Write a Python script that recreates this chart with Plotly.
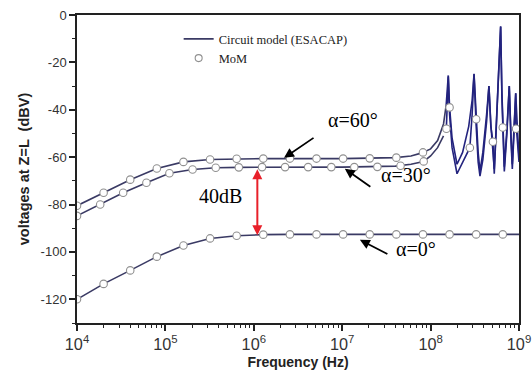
import plotly.graph_objects as go

# ---------------- data ----------------
# MoM markers
mom60_f = [1e4 * 2 ** k for k in range(17)]
mom60_v = [-80.5, -75, -69.5, -64.8, -62, -61, -60.7, -60.6, -60.6, -60.6, -60.6, -60.5,
           -60.2, -58, -39, -44, -47.5]

mom30_f = [1.0e4, 1.83e4, 3.33e4, 6.1e4, 1.11e5, 2.03e5, 3.71e5, 6.77e5, 1.24e6, 2.26e6,
           4.12e6, 7.53e6, 1.37e7, 2.5e7, 4.57e7, 8.35e7, 1.51e8, 2.78e8, 5.07e8, 9.27e8]
mom30_v = [-84.8, -80, -75, -70.8, -66.8, -65.2, -64.5, -64.3, -64.2, -64.2,
           -64.2, -64.2, -64.2, -64.1, -63.6, -61.8, -48, -56, -53.5, -48]

mom0_f = [1e4 * 2 ** k for k in range(17)]
mom0_v = [-120, -113.5, -107.8, -102, -97.3, -94.3, -93.2, -92.7, -92.6, -92.6, -92.6,
          -92.6, -92.6, -92.6, -92.6, -92.6, -92.6]

# Circuit model (ESACAP) lines
c60_f = [1e4, 2e4, 4e4, 8e4, 1.6e5, 3.2e5, 6.4e5, 1.28e6, 1e7, 4e7, 6e7, 8e7, 1.0e8, 1.2e8,
         1.4e8, 1.5e8, 1.585e8, 1.64e8, 1.75e8, 1.99e8, 2.3e8, 2.7e8, 2.95e8, 3.1e8, 3.28e8,
         3.45e8, 3.62e8, 3.9e8, 4.3e8, 4.57e8, 4.8e8, 5.25e8, 5.6e8, 5.95e8, 6.2e8, 6.4e8,
         6.55e8, 6.82e8, 7.3e8, 7.76e8, 8.1e8, 8.4e8, 8.8e8, 9.18e8, 9.6e8, 1e9]
c60_v = [-80.5, -75, -69.5, -64.8, -62, -61, -60.7, -60.6, -60.6, -60.2, -59.5, -58.2, -56.5, -53,
         -46, -38, -25.5, -39, -52, -63, -58, -47, -36, -24.8, -44,
         -58, -66, -58, -42, -30, -46, -65, -42, -16, -4.8, -32,
         -47.5, -64, -48, -30, -50, -63, -47, -33, -48, -60]

c30_f = [1e4, 1.83e4, 3.33e4, 6.1e4, 1.11e5, 2.03e5, 3.71e5, 6.77e5, 1e7, 4e7, 6e7, 8.35e7,
         1.0e8, 1.2e8, 1.4e8, 1.51e8, 1.585e8, 1.64e8, 1.75e8, 1.99e8, 2.3e8, 2.78e8, 2.95e8,
         3.1e8, 3.28e8, 3.45e8, 3.62e8, 3.9e8, 4.3e8, 4.57e8, 4.8e8, 5.07e8, 5.25e8, 5.6e8,
         5.95e8, 6.2e8, 6.4e8, 6.82e8, 7.3e8, 7.76e8, 8.1e8, 8.4e8, 8.8e8, 9.18e8, 9.27e8,
         9.6e8, 1e9]
c30_v = [-84.8, -80, -75, -70.8, -66.8, -65.2, -64.5, -64.3, -64.2, -63.8, -63, -61.8,
         -59.5, -56, -51, -47, -26, -42, -56, -67, -62, -56, -42,
         -25, -47, -62, -68, -61, -45, -30, -47, -53.5, -67, -45,
         -18, -5, -34, -66, -50, -30, -52, -65, -49, -33, -46,
         -55, -62]

c0_f = mom0_f + [1e9]
c0_v = mom0_v + [-92.6]

ytick_vals = [0, -20, -40, -60, -80, -100, -120]
ytick_text = ["0", "-20", "-40", "-60", "-80", "-100", "-120"]

# ---------------- figure ----------------
LINE_C = "#3a3a64"
RES_C = "#23237e"
SPLIT_F = 1.5e8

fig = go.Figure()
for f, v in [(c60_f, c60_v), (c30_f, c30_v)]:
    lo = [(a, b) for a, b in zip(f, v) if a <= SPLIT_F]
    hi = [(a, b) for a, b in zip(f, v) if a >= SPLIT_F]
    fig.add_trace(go.Scatter(x=[p[0] for p in lo], y=[p[1] for p in lo], mode="lines",
                             line=dict(color=LINE_C, width=1.6), showlegend=False, hoverinfo="skip"))
    fig.add_trace(go.Scatter(x=[p[0] for p in hi], y=[p[1] for p in hi], mode="lines",
                             line=dict(color=RES_C, width=1.6), showlegend=False, hoverinfo="skip"))
fig.add_trace(go.Scatter(x=c0_f, y=c0_v, mode="lines", line=dict(color=LINE_C, width=1.6),
                         showlegend=False, hoverinfo="skip"))
for f, v in [(mom60_f, mom60_v), (mom30_f, mom30_v), (mom0_f, mom0_v)]:
    fig.add_trace(go.Scatter(x=f, y=v, mode="markers",
                             marker=dict(symbol="circle", size=7.5, color="white",
                                         line=dict(width=1.1, color="#909090")),
                             showlegend=False, hoverinfo="skip"))
# legend entries
fig.add_trace(go.Scatter(x=[None], y=[None], mode="lines", name="Circuit model (ESACAP)",
                         line=dict(color=LINE_C, width=1.6)))
fig.add_trace(go.Scatter(x=[None], y=[None], mode="markers", name="MoM",
                         marker=dict(symbol="circle", size=7, color="white",
                                     line=dict(width=1.1, color="#909090"))))

SERIF = "Liberation Serif"
SANS = "Liberation Sans"

ann = []
for txt, xl, yv in [("α=60°", 7.12, -44.5), ("α=30°", 7.72, -67.5), ("α=0°", 7.84, -98.6),
                    ("40dB", 5.62, -76.3)]:
    ann.append(dict(x=xl, y=yv, xref="x", yref="y", text=txt, showarrow=False,
                    font=dict(family=SERIF, size=20, color="black")))
for xl, yv, ax, ay in [(6.342, -60.3, 31, -21), (7.03, -64.9, 27, 19), (7.20, -94.9, 29, 15)]:
    ann.append(dict(x=xl, y=yv, xref="x", yref="y", text="", showarrow=True, ax=ax, ay=ay,
                    arrowhead=2, arrowsize=1.1, arrowwidth=1.8, arrowcolor="black"))
ann.append(dict(x=6.04, y=-93, xref="x", yref="y", ax=6.04, ay=-64.5, axref="x", ayref="y",
                text="", showarrow=True, arrowhead=2, startarrowhead=2, arrowside="end+start",
                arrowsize=1.0, startarrowsize=1.0, arrowwidth=2, arrowcolor="#e8202a"))

fig.update_layout(
    width=532, height=375,
    margin=dict(l=77, r=13, t=15, b=52),
    paper_bgcolor="white", plot_bgcolor="white",
    annotations=ann,
    legend=dict(x=0.23, y=0.97, xanchor="left", yanchor="top",
                bgcolor="rgba(0,0,0,0)", font=dict(family=SERIF, size=12.5, color="#222"),
                tracegroupgap=0, itemwidth=30),
    xaxis=dict(type="log", range=[4, 9], dtick=1, exponentformat="power", automargin=False,
               showline=True, linecolor="#222", linewidth=1.5, mirror=True,
               ticks="outside", ticklen=6, tickwidth=1.5, tickcolor="#222",
               minor=dict(ticks="outside", ticklen=3, tickwidth=1.2, tickcolor="#222", dtick="D1"),
               showgrid=False, zeroline=False,
               tickfont=dict(family=SANS, size=13, color="#333"),
               title=dict(text="<b>Frequency (Hz)</b>", font=dict(family=SANS, size=14, color="#222"),
                          standoff=6)),
    yaxis=dict(range=[-130, 0], tickvals=ytick_vals, ticktext=ytick_text, automargin=False,
               showline=True, linecolor="#222", linewidth=1.5, mirror=True,
               ticks="outside", ticklen=6, tickwidth=1.5, tickcolor="#222",
               minor=dict(ticks="outside", ticklen=3, tickwidth=1.2, tickcolor="#222", dtick=10),
               showgrid=False, zeroline=False,
               tickfont=dict(family=SANS, size=13, color="#333"),
               title=dict(text="<b>voltages at Z=L  (dBV)</b>",
                          font=dict(family=SANS, size=14.5, color="#222"), standoff=8)),
)

fig.write_html("out.html")
